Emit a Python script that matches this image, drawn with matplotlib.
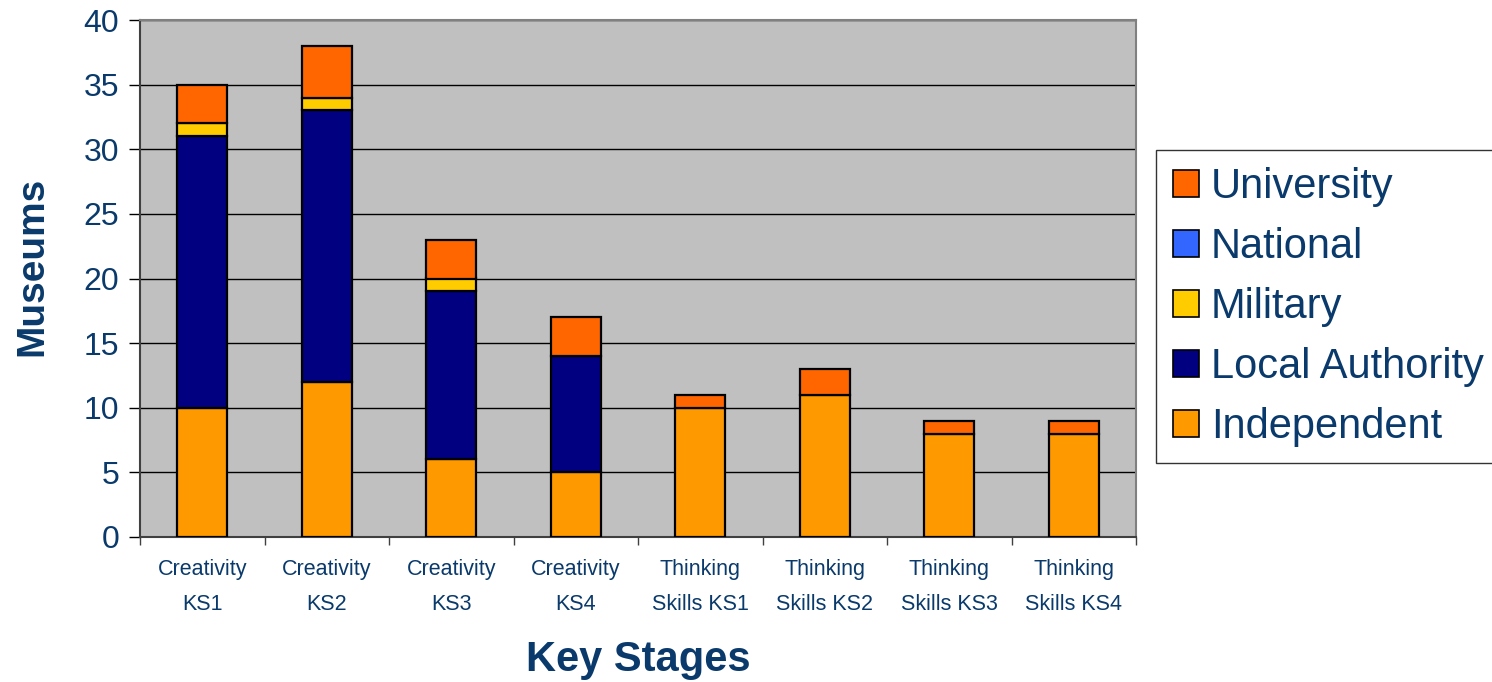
import numpy as np
import matplotlib.pyplot as plt
from matplotlib.patches import Patch

plt.rcParams['font.family'] = ['Liberation Sans', 'DejaVu Sans']

categories = ["Creativity\nKS1", "Creativity\nKS2", "Creativity\nKS3", "Creativity\nKS4",
              "Thinking\nSkills KS1", "Thinking\nSkills KS2", "Thinking\nSkills KS3", "Thinking\nSkills KS4"]

independent     = [10, 12, 6, 5, 10, 11, 8, 8]
local_authority = [21, 21, 13, 9, 0, 0, 0, 0]
military        = [1, 1, 1, 0, 0, 0, 0, 0]
national        = [0, 0, 0, 0, 0, 0, 0, 0]
university      = [3, 4, 3, 3, 1, 2, 1, 1]

series = [("Independent", independent, "#FF9900"),
          ("Local Authority", local_authority, "#000080"),
          ("Military", military, "#FFCC00"),
          ("National", national, "#3366FF"),
          ("University", university, "#FF6600")]

txt = "#0A3A6B"

fig = plt.figure(figsize=(14.92, 6.82), dpi=100)
ax = fig.add_axes([140/1492, 1-537/682, (1136-140)/1492, (537-20)/682])
ax.set_facecolor("#C0C0C0")

x = np.arange(len(categories))
bottom = np.zeros(len(categories))
for name, vals, col in series:
    v = np.array(vals, dtype=float)
    mask = v > 0
    ax.bar(x[mask], v[mask], 0.4, bottom=bottom[mask], color=col,
           edgecolor="black", linewidth=1.6, zorder=3)
    bottom += v

ax.set_xlim(-0.5, len(categories) - 0.5)
ax.set_ylim(0, 40)
ax.set_yticks(np.arange(0, 41, 5))
ax.yaxis.grid(True, color="black", linewidth=1.0, zorder=1)
ax.set_axisbelow(True)

# category boundaries as major ticks, labels on minor ticks
ax.set_xticks(np.arange(-0.5, len(categories)), labels=[])
ax.set_xticks(x, labels=categories, minor=True)
ax.tick_params(axis="x", which="major", length=6, width=1, color="#404040", direction="out")
ax.tick_params(axis="x", which="minor", length=0, pad=16, labelsize=15.5, labelcolor=txt)
for lab in ax.get_xticklabels(minor=True):
    lab.set_linespacing(1.85)
ax.tick_params(axis="y", length=8, width=1, color="black", labelsize=23, labelcolor=txt, pad=7)

for s in ["left", "bottom"]:
    ax.spines[s].set_color("#404040")
    ax.spines[s].set_linewidth(1.5)
for s in ["top", "right"]:
    ax.spines[s].set_color("#808080")
    ax.spines[s].set_linewidth(1.5)

fig.text(32/1492, 1-266/682, "Museums", rotation=90, ha="center", va="center",
         fontsize=28, fontweight="bold", color=txt)
fig.text(638/1492, 1-660/682, "Key Stages", ha="center", va="center",
         fontsize=30, fontweight="bold", color=txt)

handles = [Patch(facecolor=col, edgecolor="black", linewidth=1.2, label=name)
           for name, vals, col in reversed(series)]
leg = fig.legend(handles=handles, loc="upper left",
                 bbox_to_anchor=(1156/1492, 1-150/682), borderaxespad=0, fontsize=30,
                 frameon=True, fancybox=False, handlelength=0.62, handleheight=0.62,
                 handletextpad=0.3, labelspacing=0.48, borderpad=0.4)
leg.get_frame().set_edgecolor("black")
leg.get_frame().set_linewidth(1.0)
for t in leg.get_texts():
    t.set_color(txt)

fig.savefig("out.png", dpi=100)
